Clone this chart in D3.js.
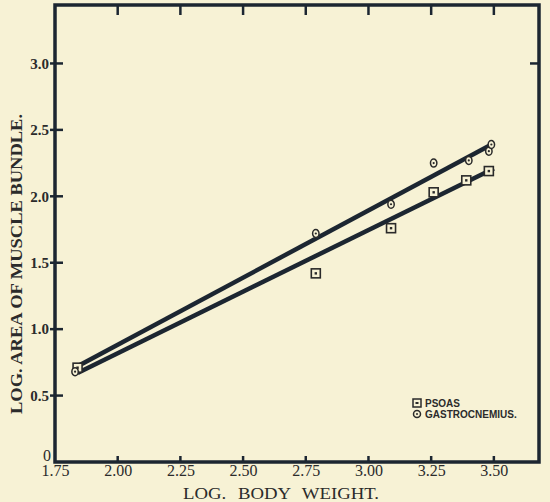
<!DOCTYPE html>
<html>
<head>
<meta charset="utf-8">
<script src="https://cdn.jsdelivr.net/npm/d3@7"></script>
<style>
    body { margin: 0; background: #f7f2d5; }
    svg { display: block; }
</style>
</head>
<body>
<div id="chart"></div>
<script>
// values
const psoasX = [1.84, 2.79, 3.09, 3.26, 3.39, 3.48]
const psoasY = [0.71, 1.42, 1.76, 2.03, 2.12, 2.19]
const gastroX = [1.83, 2.79, 3.09, 3.26, 3.40, 3.48, 3.49]
const gastroY = [0.68, 1.72, 1.94, 2.25, 2.27, 2.34, 2.39]

// fitted lines (end points)
const fitX = [1.84, 3.50]
const psoasFit = [0.67, 2.21]
const gastroFit = [0.72, 2.40]

const xTicks = [1.75, 2.00, 2.25, 2.50, 2.75, 3.00, 3.25, 3.50]
const yTicks = [0, 0.5, 1.0, 1.5, 2.0, 2.5, 3.0]
const rightTicks = [3.0]

const width = 550
const height = 502
const ink = "#1c2631"
const paper = "#f7f2d5"
const serif = "'Liberation Serif', 'DejaVu Serif', serif"

const svg = d3.select("#chart")
    .append("svg")
    .attr("width", width)
    .attr("height", height)

svg.append("rect")
    .attr("width", width)
    .attr("height", height)
    .attr("fill", paper)

const x = d3.scaleLinear()
    .domain([1.75, 3.68])
    .range([55, 539])

const y = d3.scaleLinear()
    .domain([0, 3.44])
    .range([462, 5])

// frame
svg.append("rect")
    .attr("x", x.range()[0])
    .attr("y", y.range()[1])
    .attr("width", x.range()[1] - x.range()[0])
    .attr("height", y.range()[0] - y.range()[1])
    .attr("fill", "none")
    .attr("stroke", ink)
    .attr("stroke-width", 3.5)

// bottom labels
const bottom = svg.append("g")
    .attr("transform", `translate(0,${y(0)})`)
    .call(d3.axisBottom(x).tickValues(xTicks).tickSize(0).tickFormat(d3.format(".2f")))
bottom.select(".domain").remove()
bottom.selectAll("text")
    .attr("y", 3)
    .attr("dy", "0.71em")
    .style("font-family", serif)
    .style("font-size", "16px")
    .style("fill", "#2b2b2b")

// bottom ticks (inward)
svg.append("g").selectAll("line")
    .data(xTicks.slice(1))
    .enter()
    .append("line")
    .attr("x1", d => x(d))
    .attr("x2", d => x(d))
    .attr("y1", y(0))
    .attr("y2", y(0) - 6)
    .attr("stroke", ink)
    .attr("stroke-width", 2.5)

// top ticks
svg.append("g").selectAll("line")
    .data(xTicks.slice(1))
    .enter()
    .append("line")
    .attr("x1", d => x(d))
    .attr("x2", d => x(d))
    .attr("y1", y.range()[1])
    .attr("y2", y.range()[1] + 10)
    .attr("stroke", ink)
    .attr("stroke-width", 2.5)

// left ticks + labels
const left = svg.append("g")
    .attr("transform", `translate(${x(1.75)},0)`)
    .call(d3.axisLeft(y).tickValues(yTicks).tickSize(0)
        .tickFormat(d => d === 0 ? "0" : d3.format(".1f")(d)))
left.select(".domain").remove()
left.selectAll("text")
    .attr("x", -6)
    .style("font-family", serif)
    .style("font-size", "15px")
    .style("font-weight", "bold")
    .style("fill", "#2b2b2b")
left.selectAll(".tick").filter(d => d === 0).select("text")
    .attr("dy", "-0.1em")
    .attr("x", -4)
    .style("font-weight", "normal")
    .style("font-size", "16px")

svg.append("g").selectAll("line")
    .data(yTicks.slice(1))
    .enter()
    .append("line")
    .attr("x1", x(1.75) - 5)
    .attr("x2", x(1.75) + 8)
    .attr("y1", d => y(d))
    .attr("y2", d => y(d))
    .attr("stroke", ink)
    .attr("stroke-width", 2.5)

// right ticks
svg.append("g").selectAll("line")
    .data(rightTicks)
    .enter()
    .append("line")
    .attr("x1", x.range()[1])
    .attr("x2", x.range()[1] - 9)
    .attr("y1", d => y(d))
    .attr("y2", d => y(d))
    .attr("stroke", ink)
    .attr("stroke-width", 2.5)

// axis titles
svg.append("text")
    .attr("x", 281)
    .attr("y", 499)
    .attr("text-anchor", "middle")
    .attr("textLength", 196)
    .attr("lengthAdjust", "spacingAndGlyphs")
    .style("font-family", serif)
    .style("font-size", "16px")
    .style("word-spacing", "6px")
    .style("fill", "#2b2b2b")
    .text("LOG. BODY WEIGHT.")

svg.append("text")
    .attr("transform", "translate(22,264) rotate(-90)")
    .attr("text-anchor", "middle")
    .attr("textLength", 300)
    .attr("lengthAdjust", "spacingAndGlyphs")
    .style("font-family", serif)
    .style("font-size", "17px")
    .style("font-weight", "bold")
    .style("fill", "#2b2b2b")
    .text("LOG. AREA OF MUSCLE BUNDLE.")

// fitted lines
const line = d3.line()
    .x(d => x(d[0]))
    .y(d => y(d[1]))

svg.append("path")
    .datum(d3.zip(fitX, gastroFit))
    .attr("d", line)
    .attr("fill", "none")
    .attr("stroke", ink)
    .attr("stroke-width", 4.5)

svg.append("path")
    .datum(d3.zip(fitX, psoasFit))
    .attr("d", line)
    .attr("fill", "none")
    .attr("stroke", ink)
    .attr("stroke-width", 4.5)

// markers
const squares = svg.append("g").selectAll("g")
    .data(d3.zip(psoasX, psoasY))
    .enter()
    .append("g")
    .attr("transform", d => `translate(${x(d[0])},${y(d[1])})`)
squares.append("rect")
    .attr("x", -4.5).attr("y", -4.5)
    .attr("width", 9).attr("height", 9)
    .attr("fill", paper)
    .attr("stroke", "#2a2a2a")
    .attr("stroke-width", 1.6)
squares.append("rect")
    .attr("x", -1.2).attr("y", -1.2)
    .attr("width", 2.4).attr("height", 2.4)
    .attr("fill", "#2a2a2a")

const circles = svg.append("g").selectAll("g")
    .data(d3.zip(gastroX, gastroY))
    .enter()
    .append("g")
    .attr("transform", d => `translate(${x(d[0])},${y(d[1])})`)
circles.append("ellipse")
    .attr("rx", 3.2).attr("ry", 4)
    .attr("fill", paper)
    .attr("stroke", "#2a2a2a")
    .attr("stroke-width", 1.5)
circles.append("circle")
    .attr("r", 1.1)
    .attr("fill", "#2a2a2a")

// legend
const legend = svg.append("g").attr("transform", "translate(417,403)")
legend.append("rect")
    .attr("x", -4).attr("y", -4).attr("width", 8).attr("height", 8)
    .attr("fill", paper).attr("stroke", "#2a2a2a").attr("stroke-width", 1.5)
legend.append("rect")
    .attr("x", -1.5).attr("y", -1).attr("width", 3).attr("height", 2)
    .attr("fill", "#2a2a2a")
legend.append("circle")
    .attr("cy", 11).attr("r", 3.5)
    .attr("fill", paper).attr("stroke", "#2a2a2a").attr("stroke-width", 1.5)
legend.append("circle")
    .attr("cy", 11).attr("r", 1)
    .attr("fill", "#2a2a2a")
legend.selectAll("text")
    .data(["PSOAS", "GASTROCNEMIUS."])
    .enter()
    .append("text")
    .attr("x", 8)
    .attr("y", (d, i) => 3.5 + i * 11)
    .style("font-family", "'Liberation Sans Narrow', 'Liberation Sans', sans-serif")
    .style("font-size", "10px")
    .style("font-weight", "bold")
    .style("fill", "#2b2b2b")
    .text(d => d)
</script>
</body>
</html>
